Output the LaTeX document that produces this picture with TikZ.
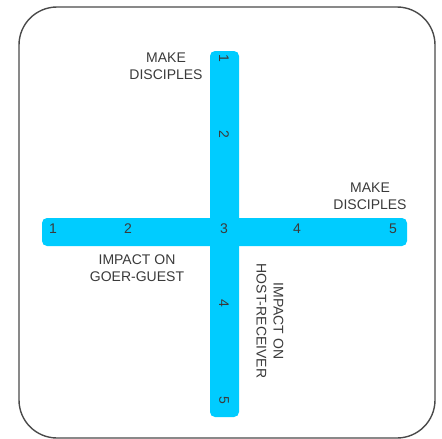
\documentclass[tikz,border=0pt]{standalone}
\usepackage{fontspec}
\setmainfont{Liberation Sans}
\definecolor{barblue}{HTML}{00CCFF}
\definecolor{txtgray}{HTML}{3A3A3A}
\definecolor{framegray}{HTML}{4A4A4A}
\begin{document}
\begin{tikzpicture}[
x=1pt,
y=-1pt,
frame/.style={
draw=framegray,
line width=1.4pt,
rounded corners=38pt
},
bar/.style={
fill=barblue,
rounded corners=5pt
},
num/.style={
text=txtgray,
inner sep=0pt,
font=\fontsize{14}{17}\selectfont
},
lbl/.style={
text=txtgray,
inner sep=0pt,
align=center,
font=\fontsize{14}{17}\selectfont
}
]

\useasboundingbox (0,0) rectangle (442,439);

\draw[frame] (19,7) rectangle (435,438);

% the two scales
\fill[bar] (210,51) rectangle (239,417);
\fill[bar] (42,218) rectangle (407,246);

% horizontal scale
\node[num] (h1) at (53,229) {1};
\node[num] (h2) at (128,229) {2};
\node[num] (h3) at (224,229) {3};
\node[num] (h4) at (297,229) {4};
\node[num] (h5) at (393,229) {5};

% vertical scale
\node[num, rotate=-90] (v1) at (224,58) {1};
\node[num, rotate=-90] (v2) at (224,134) {2};
\node[num, rotate=-90] (v4) at (224,303) {4};
\node[num, rotate=-90] (v5) at (224,400) {5};

% labels
\node[lbl] (topLbl) at (166,66)
{MAKE\\DISCIPLES};

\node[lbl] (rightLbl) at (370,196)
{MAKE\\DISCIPLES};

\node[lbl] (goerLbl) at (137,268)
{IMPACT ON\\GOER-GUEST};

\node[lbl, rotate=-90] (hostLbl) at (270,321)
{IMPACT ON\\HOST-RECEIVER};

\end{tikzpicture}
\end{document}
